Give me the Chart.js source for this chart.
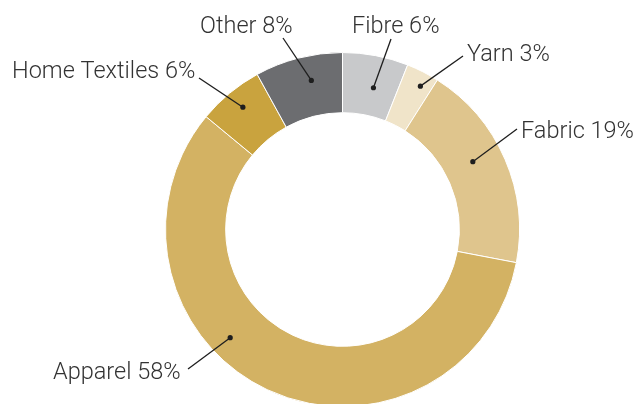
<!DOCTYPE html>
<html>
<head>
<meta charset="utf-8">
<script src="https://cdn.jsdelivr.net/npm/chart.js@4.4.1/dist/chart.umd.min.js"></script>
<style>
  html, body { margin: 0; padding: 0; background: #fff; }
  #wrap { width: 636px; height: 404px; overflow: hidden; position: relative; }
  #chart { display: block; }
</style>
</head>
<body>
<div id="wrap"><canvas id="chart" width="636" height="412"></canvas></div>
<script>
  'use strict';

  // Share of the textile value chain, clockwise from 12 o'clock
  var categories = ['Fibre', 'Yarn', 'Fabric', 'Apparel', 'Home Textiles', 'Other'];
  var shares = [6, 3, 19, 58, 6, 8];
  var colors = ['#c8c9cb', '#f0e4c9', '#dfc58d', '#d3b263', '#c9a33e', '#6c6d70'];

  // Callout layout: text baseline-left, end of the leader line next to the
  // text, and where the dot sits inside its slice (fraction along the arc,
  // fraction across the ring).
  var callouts = [
    { text: [352, 33],  lineEnd: [391, 39],  along: 0.57, across: 0.47 },
    { text: [467, 61],  lineEnd: [463, 56],  along: 0.64, across: 0.77 },
    { text: [521, 138], lineEnd: [517, 129], along: 0.44, across: 0.50 },
    { text: [53, 379],  lineEnd: [188, 369], along: 0.60, across: 0.65 },
    { text: [12, 78],   lineEnd: [199, 78],  along: 0.52, across: 0.68 },
    { text: [200, 33],  lineEnd: [283, 38],  along: 0.59, across: 0.59 }
  ];

  var calloutPlugin = {
    id: 'callouts',
    afterDatasetsDraw: function(chart) {
      var ctx = chart.ctx;
      var arcs = chart.getDatasetMeta(0).data;
      ctx.save();
      ctx.font = '300 23.5px Roboto, sans-serif';
      ctx.strokeStyle = '#1e1e1e';
      ctx.lineWidth = 1.3;
      ctx.textBaseline = 'alphabetic';
      arcs.forEach(function(arc, i) {
        var c = callouts[i];
        var p = arc.getProps(['x', 'y', 'startAngle', 'endAngle', 'innerRadius', 'outerRadius'], true);
        var a = p.startAngle + (p.endAngle - p.startAngle) * c.along;
        var r = p.innerRadius + (p.outerRadius - p.innerRadius) * c.across;
        var dx = p.x + Math.cos(a) * r;
        var dy = p.y + Math.sin(a) * r;

        ctx.beginPath();
        ctx.moveTo(dx, dy);
        ctx.lineTo(c.lineEnd[0], c.lineEnd[1]);
        ctx.stroke();

        ctx.beginPath();
        ctx.fillStyle = '#1e1e1e';
        ctx.arc(dx, dy, 2.6, 0, Math.PI * 2);
        ctx.fill();

        ctx.fillStyle = '#333333';
        ctx.fillText(categories[i] + ' ' + shares[i] + '%', c.text[0], c.text[1]);
      });
      ctx.restore();
    }
  };

  new Chart(document.getElementById('chart'), {
    type: 'doughnut',
    data: {
      labels: categories,
      datasets: [{
        data: shares,
        backgroundColor: colors,
        borderColor: '#ffffff',
        borderWidth: 1,
        hoverOffset: 0
      }]
    },
    plugins: [calloutPlugin],
    options: {
      responsive: false,
      animation: false,
      cutout: '66%',
      layout: { padding: { top: 52, bottom: 5, left: 165, right: 116 } },
      plugins: {
        legend: { display: false },
        tooltip: { enabled: false }
      }
    }
  });
</script>
</body>
</html>
